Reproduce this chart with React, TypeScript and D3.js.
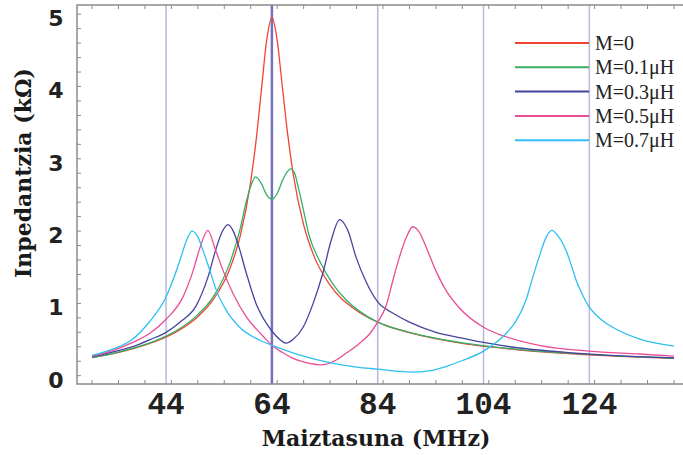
import React, { useEffect, useRef } from 'react';
import * as d3 from 'd3';

// tick labels
const xTickLabels = [44, 64, 84, 104, 124];
const yTickLabels = [0, 1, 2, 3, 4, 5];
const seriesNames = ['M=0', 'M=0.1μH', 'M=0.3μH', 'M=0.5μH', 'M=0.7μH'];

// M=0
const m0Freq = [30, 34, 38, 42, 46, 50, 53, 56, 58, 60, 61, 62, 63, 64, 65, 66, 67, 68, 70, 72, 75, 80, 85, 90, 100, 110, 120, 130, 140];
const m0Val = [0.25, 0.305, 0.377, 0.473, 0.609, 0.816, 1.062, 1.47, 1.927, 2.684, 3.244, 3.937, 4.63, 4.96, 4.639, 3.98, 3.33, 2.8, 2.085, 1.647, 1.253, 0.901, 0.71, 0.595, 0.446, 0.362, 0.307, 0.268, 0.24];

// M=0.1uH
const m1Freq = [30, 34, 38, 42, 46, 50, 53, 56, 58, 59, 60, 60.9, 62, 63, 64, 65, 66, 67, 67.6, 68.3, 69, 70, 71, 73, 75.5, 78, 80.6, 84, 90, 100, 110, 120, 130, 140];
const m1Val = [0.25, 0.31, 0.385, 0.485, 0.625, 0.845, 1.1, 1.55, 2.03, 2.36, 2.62, 2.75, 2.66, 2.5, 2.44, 2.52, 2.7, 2.83, 2.86, 2.8, 2.6, 2.28, 1.95, 1.59, 1.27, 1.05, 0.89, 0.74, 0.6, 0.455, 0.368, 0.312, 0.272, 0.245];

// M=0.3uH
const m3Freq = [30, 34, 38, 41, 44, 46.6, 49.7, 51.9, 53.5, 54.6, 55.7, 56.7, 57.6, 59.2, 61, 63, 64.8, 66.7, 68, 69.9, 71.8, 73.6, 75.2, 76.8, 78.4, 79.9, 81.8, 84, 87, 90, 95, 100, 104, 110, 120, 130, 140];
const m3Val = [0.26, 0.33, 0.41, 0.5, 0.6, 0.74, 0.97, 1.36, 1.77, 1.99, 2.09, 2.0, 1.82, 1.41, 1.0, 0.72, 0.55, 0.45, 0.5, 0.67, 1.0, 1.41, 1.87, 2.16, 2.0, 1.64, 1.3, 1.02, 0.86, 0.74, 0.6, 0.52, 0.46, 0.39, 0.32, 0.275, 0.245];

// M=0.5uH
const m5Freq = [30, 34, 37.4, 41, 44, 47.2, 49.1, 50.4, 51.9, 53.2, 54.8, 56.7, 59.2, 62.3, 64, 66, 68, 70.5, 73.3, 76, 78, 80.6, 82.5, 84, 85.6, 86.8, 88.1, 89.4, 90.6, 91.9, 93.2, 95, 96.9, 99.4, 104, 108.2, 114.5, 124, 133.4, 140];
const m5Val = [0.27, 0.35, 0.45, 0.59, 0.78, 1.09, 1.45, 1.77, 2.01, 1.77, 1.45, 1.13, 0.81, 0.55, 0.42, 0.32, 0.24, 0.18, 0.15, 0.21, 0.31, 0.45, 0.58, 0.74, 0.97, 1.3, 1.64, 1.91, 2.06, 1.98, 1.77, 1.45, 1.18, 0.94, 0.67, 0.54, 0.42, 0.34, 0.3, 0.27];

// M=0.7uH
const m7Freq = [30, 34, 37.4, 40.9, 43.8, 46.6, 47.8, 48.9, 50, 51, 52.3, 53.5, 55.4, 57.9, 61.7, 64.8, 70, 74.3, 80, 84, 88, 91, 94, 97, 100, 104, 108.2, 110, 112, 113.3, 114.5, 115.8, 116.9, 118, 119.6, 120.5, 121.5, 122.5, 123.8, 125, 126.5, 128.4, 133.4, 140];
const m7Val = [0.28, 0.37, 0.49, 0.75, 1.06, 1.59, 1.86, 2.0, 1.92, 1.73, 1.45, 1.18, 0.9, 0.67, 0.49, 0.4, 0.27, 0.19, 0.12, 0.09, 0.06, 0.05, 0.07, 0.13, 0.21, 0.34, 0.58, 0.74, 1.04, 1.36, 1.64, 1.91, 2.01, 1.94, 1.73, 1.55, 1.32, 1.15, 0.97, 0.86, 0.76, 0.67, 0.51, 0.41];

const colors = ['#ee4433', '#33b066', '#45459f', '#ea4d96', '#2ec0f0'];

const App = () => {
  const svgRef = useRef(null);

  useEffect(() => {
    const svg = d3.select(svgRef.current);
    svg.selectAll('*').remove();

    const width = 683;
    const height = 455;
    const left = 77, top = 5, bottom = 384, right = 683;

    const x = d3.scaleLinear().domain([30, 140]).range([92, 674]);
    const y = d3.scaleLinear().domain([0, 5]).range([375.7, 14.2]);

    svg.attr('width', width).attr('height', height);
    svg.append('rect').attr('width', width).attr('height', height).attr('fill', 'white');

    // vertical grid lines
    svg.selectAll('.grid')
      .data(xTickLabels)
      .enter().append('line')
      .attr('x1', d => x(d)).attr('x2', d => x(d))
      .attr('y1', top).attr('y2', bottom)
      .attr('stroke', d => d === 64 ? '#7470bb' : '#bcb6de')
      .attr('stroke-width', d => d === 64 ? 2.5 : 1.5);

    // frame
    const axisColor = '#8a8a8a';
    svg.append('path')
      .attr('d', `M${right},${top}H${left}V${bottom}H${right}`)
      .attr('fill', 'none')
      .attr('stroke', axisColor)
      .attr('stroke-width', 1.5);

    // minor ticks
    const xMinor = d3.range(30, 141, 5);
    svg.selectAll('.xtb').data(xMinor).enter().append('line')
      .attr('x1', d => x(d)).attr('x2', d => x(d))
      .attr('y1', bottom).attr('y2', bottom - 4)
      .attr('stroke', axisColor).attr('stroke-width', 1);
    svg.selectAll('.xtt').data(xMinor).enter().append('line')
      .attr('x1', d => x(d)).attr('x2', d => x(d))
      .attr('y1', top).attr('y2', top + 4)
      .attr('stroke', axisColor).attr('stroke-width', 1);
    const yMinor = d3.range(0, 5.01, 0.2);
    svg.selectAll('.ytl').data(yMinor).enter().append('line')
      .attr('x1', left).attr('x2', left + 4)
      .attr('y1', d => y(d)).attr('y2', d => y(d))
      .attr('stroke', axisColor).attr('stroke-width', 1);

    // tick labels
    svg.selectAll('.xl').data(xTickLabels).enter().append('text')
      .attr('x', d => x(d))
      .attr('y', 414)
      .attr('text-anchor', 'middle')
      .style('font-family', '"Liberation Mono", monospace')
      .style('font-weight', 'bold')
      .style('font-size', '31px')
      .style('fill', '#222')
      .text(d => d);

    svg.selectAll('.yl').data(yTickLabels).enter().append('text')
      .attr('x', 56)
      .attr('y', d => y(d) + 4)
      .attr('dy', '0.36em')
      .attr('text-anchor', 'middle')
      .style('font-family', '"DejaVu Sans", sans-serif')
      .style('font-weight', 'bold')
      .style('font-size', '22px')
      .style('fill', '#222')
      .text(d => d);

    // axis titles
    svg.append('text')
      .attr('x', 376).attr('y', 446)
      .attr('text-anchor', 'middle')
      .style('font-family', '"DejaVu Serif", serif')
      .style('font-weight', 'bold')
      .style('font-size', '22px')
      .style('fill', '#1a1a1a')
      .text('Maiztasuna (MHz)');

    svg.append('text')
      .attr('transform', 'translate(31,173) rotate(-90)')
      .attr('text-anchor', 'middle')
      .style('font-family', '"DejaVu Serif", serif')
      .style('font-weight', 'bold')
      .style('font-size', '22px')
      .style('fill', '#1a1a1a')
      .text('Inpedantzia (kΩ)');

    // curves
    const series = [
      { freq: m0Freq, val: m0Val },
      { freq: m1Freq, val: m1Val },
      { freq: m3Freq, val: m3Val },
      { freq: m5Freq, val: m5Val },
      { freq: m7Freq, val: m7Val },
    ];

    const line = d3.line()
      .x(d => x(d[0]))
      .y(d => y(d[1]))
      .curve(d3.curveMonotoneX);

    series.forEach((s, i) => {
      svg.append('path')
        .datum(s.freq.map((f, j) => [f, s.val[j]]))
        .attr('d', line)
        .attr('fill', 'none')
        .attr('stroke', colors[i])
        .attr('stroke-width', 1.3);
    });

    // legend
    const legend = svg.append('g');
    const rows = legend.selectAll('.li').data(seriesNames).enter().append('g')
      .attr('transform', (d, i) => `translate(0, ${43 + i * 24.3})`);
    rows.append('line')
      .attr('x1', 515).attr('x2', 589)
      .attr('stroke', (d, i) => colors[i])
      .attr('stroke-width', 2);
    rows.append('text')
      .attr('x', 595)
      .attr('y', 7)
      .style('font-family', '"Liberation Serif", serif')
      .style('font-size', '20px')
      .style('fill', '#222')
      .text(d => d);
  }, []);

  return (
    <svg ref={svgRef} style={{ position: 'absolute', left: 0, top: 0 }}></svg>
  );
};

export default App;
